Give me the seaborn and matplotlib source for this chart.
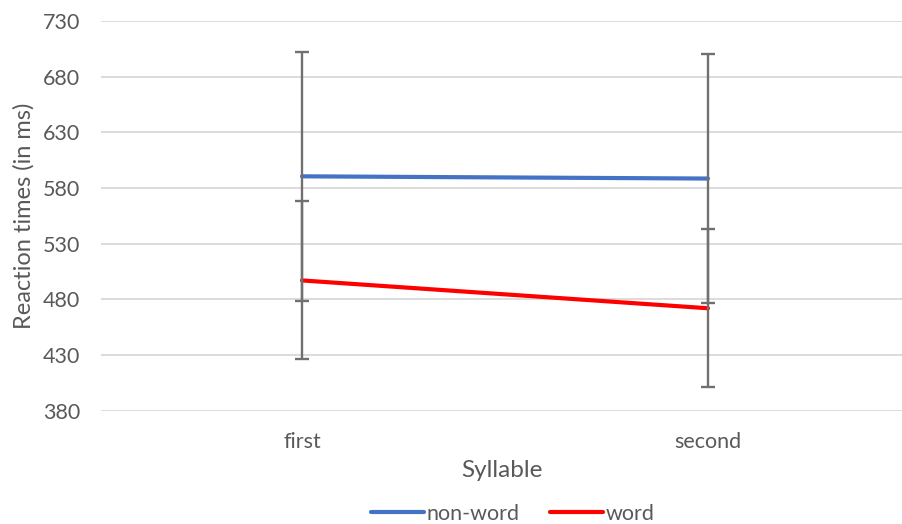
import pandas as pd
import numpy as np
import matplotlib
matplotlib.use('Agg')
import matplotlib.pyplot as plt
import seaborn as sns

# Data
syllables = ['first', 'second']
nonword_rt = [590.5, 588.5]
nonword_err = [112, 112]
word_rt = [497, 472]
word_err = [71, 71]

df = pd.DataFrame({
    'Syllable': syllables * 2,
    'RT': nonword_rt + word_rt,
    'Condition': ['non-word'] * 2 + ['word'] * 2,
})

sns.set_style('white')
plt.rcParams['font.family'] = ['Lato', 'DejaVu Sans']
text_col = '#595959'

fig = plt.figure(figsize=(9.03, 5.24), dpi=100)
ax = fig.add_axes([101 / 903, 1 - 410.7 / 524, 802 / 903, (410.7 - 21) / 524])

palette = {'non-word': '#4472C4', 'word': '#FF0000'}
sns.lineplot(data=df, x='Syllable', y='RT', hue='Condition', palette=palette,
             linewidth=3, ax=ax, sort=False)

xpos = np.arange(len(syllables))
ax.errorbar(xpos, nonword_rt, yerr=nonword_err, fmt='none', ecolor='#707070',
            elinewidth=1.7, capsize=5, capthick=1.7, zorder=5)
ax.errorbar(xpos, word_rt, yerr=word_err, fmt='none', ecolor='#707070',
            elinewidth=1.7, capsize=5, capthick=1.7, zorder=5)

ax.set_ylim(380, 730)
ax.set_yticks(np.arange(380, 731, 50))
ax.set_xlim(-(302 - 101) / 406, (903 - 302) / 406)
ax.yaxis.grid(True, color='#D9D9D9', linewidth=1.3)
ax.set_axisbelow(True)
for s in ax.spines.values():
    s.set_visible(False)
ax.tick_params(axis='both', length=0, labelsize=15.5, labelcolor=text_col)
ax.tick_params(axis='y', pad=15)
ax.tick_params(axis='x', pad=15)

ax.set_xlabel('Syllable', fontsize=17.5, color=text_col, labelpad=6)
ax.set_ylabel('Reaction times (in ms)', fontsize=17, color=text_col, labelpad=6)

ax.get_legend().remove()
handles, labels = ax.get_legend_handles_labels()
leg = fig.legend(handles, labels, loc='center',
                 bbox_to_anchor=(513 / 903, 1 - 514 / 524),
                 ncol=2, frameon=False, fontsize=15.5, handlelength=2.45,
                 handletextpad=0.15, columnspacing=1.4)
for t in leg.get_texts():
    t.set_color(text_col)

plt.savefig('out.png', dpi=100)
